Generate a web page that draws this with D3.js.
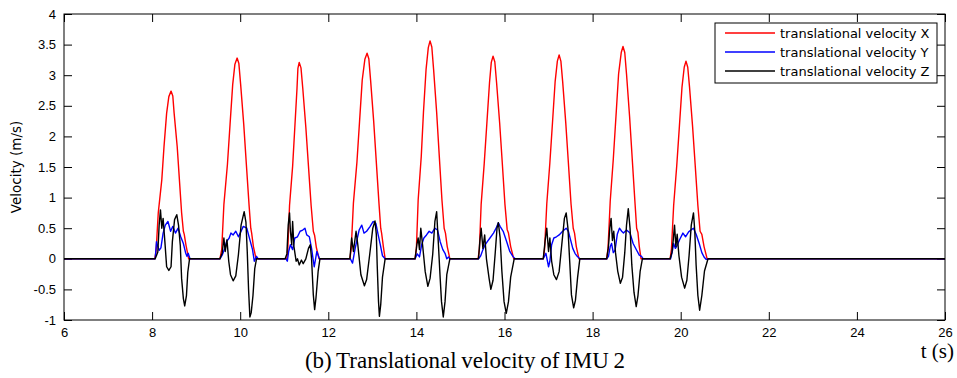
<!DOCTYPE html>
<html>
<head>
<meta charset="utf-8">
<script src="https://cdn.jsdelivr.net/npm/d3@7"></script>
<style>
  body { margin: 0; background: #ffffff; }
  svg { display: block; }
</style>
</head>
<body>
<div id="chart"></div>
<script>
// Translational velocity of IMU 2, three components over time (s).
const xTicks = [6, 8, 10, 12, 14, 16, 18, 20, 22, 24, 26];
const yTicks = [-1, -0.5, 0, 0.5, 1, 1.5, 2, 2.5, 3, 3.5, 4];
const seriesNames = ["translational velocity X", "translational velocity Y", "translational velocity Z"];
const seriesColors = ["#ff0000", "#0000ff", "#000000"];

// [t, v] samples, one line per stride.
const velX = [
  [6, 0],
  [8.06, 0], [8.09, 0.12], [8.14, 0.75], [8.22, 1.29], [8.27, 1.83], [8.33, 2.38], [8.38, 2.65], [8.43, 2.74], [8.47, 2.66], [8.50, 2.38], [8.57, 1.83], [8.62, 1.29], [8.67, 0.75], [8.71, 0.45], [8.73, 0.40], [8.77, 0.22], [8.83, 0],
  [9.54, 0], [9.58, 0.15], [9.63, 0.89], [9.71, 1.54], [9.77, 2.2], [9.83, 2.85], [9.88, 3.18], [9.93, 3.28], [9.97, 3.19], [10.01, 2.85], [10.08, 2.2], [10.14, 1.54], [10.20, 0.89], [10.24, 0.50], [10.26, 0.42], [10.30, 0.2], [10.36, 0],
  [11.06, 0], [11.08, 0.15], [11.12, 0.87], [11.19, 1.51], [11.24, 2.15], [11.29, 2.79], [11.31, 3.11], [11.34, 3.21], [11.38, 3.12], [11.42, 2.79], [11.49, 2.15], [11.55, 1.51], [11.61, 0.87], [11.66, 0.45], [11.69, 0.38], [11.73, 0.18], [11.79, 0],
  [12.49, 0], [12.52, 0.16], [12.57, 0.91], [12.65, 1.58], [12.71, 2.25], [12.77, 2.92], [12.83, 3.26], [12.88, 3.36], [12.92, 3.27], [12.96, 2.92], [13.03, 2.25], [13.09, 1.58], [13.15, 0.91], [13.19, 0.5], [13.21, 0.42], [13.25, 0.2], [13.29, 0],
  [13.97, 0], [14.00, 0.17], [14.04, 0.96], [14.11, 1.67], [14.16, 2.39], [14.22, 3.10], [14.27, 3.45], [14.31, 3.56], [14.35, 3.46], [14.39, 3.10], [14.46, 2.39], [14.52, 1.67], [14.58, 0.96], [14.63, 0.5], [14.66, 0.42], [14.70, 0.2], [14.76, 0],
  [15.40, 0], [15.43, 0.16], [15.47, 0.89], [15.54, 1.56], [15.60, 2.22], [15.66, 2.88], [15.70, 3.21], [15.74, 3.31], [15.78, 3.22], [15.82, 2.88], [15.89, 2.22], [15.95, 1.56], [16.01, 0.89], [16.06, 0.48], [16.09, 0.42], [16.14, 0.2], [16.21, 0],
  [16.88, 0], [16.91, 0.16], [16.96, 0.9], [17.03, 1.57], [17.09, 2.23], [17.15, 2.9], [17.20, 3.23], [17.24, 3.33], [17.28, 3.23], [17.32, 2.9], [17.39, 2.23], [17.45, 1.57], [17.51, 0.9], [17.56, 0.5], [17.59, 0.42], [17.63, 0.2], [17.69, 0],
  [18.32, 0], [18.35, 0.17], [18.40, 0.94], [18.47, 1.63], [18.53, 2.32], [18.59, 3.02], [18.65, 3.37], [18.69, 3.47], [18.73, 3.37], [18.77, 3.02], [18.84, 2.32], [18.90, 1.63], [18.96, 0.94], [19.00, 0.5], [19.03, 0.43], [19.06, 0.2], [19.10, 0],
  [19.76, 0], [19.79, 0.16], [19.84, 0.87], [19.91, 1.52], [19.97, 2.16], [20.03, 2.81], [20.08, 3.13], [20.12, 3.23], [20.16, 3.13], [20.20, 2.81], [20.27, 2.16], [20.33, 1.52], [20.39, 0.87], [20.44, 0.45], [20.48, 0.4], [20.53, 0.2], [20.60, 0],
  [26, 0]
];

const velY = [
  [6, 0],
  [8.07, 0], [8.10, 0.28], [8.13, 0.2], [8.16, 0.14], [8.20, 0.18], [8.25, 0.42], [8.30, 0.55], [8.36, 0.61], [8.42, 0.45], [8.47, 0.53], [8.53, 0.42], [8.59, 0.5], [8.65, 0.36], [8.71, 0.25], [8.76, 0.1], [8.79, 0.04], [8.82, 0.09], [8.86, 0],
  [9.54, 0], [9.59, 0.06], [9.65, 0.17], [9.69, 0.28], [9.75, 0.34], [9.79, 0.42], [9.84, 0.39], [9.90, 0.45], [9.96, 0.36], [10.02, 0.45], [10.07, 0.53], [10.15, 0.5], [10.22, 0.31], [10.28, 0.15], [10.32, -0.04], [10.37, 0.04], [10.41, 0],
  [11.04, 0], [11.07, -0.04], [11.10, 0.12], [11.14, 0.23], [11.19, 0.15], [11.24, 0.34], [11.30, 0.36], [11.36, 0.45], [11.42, 0.47], [11.47, 0.5], [11.51, 0.39], [11.57, 0.36], [11.62, 0.17], [11.68, -0.13], [11.74, 0.12], [11.80, 0],
  [12.50, 0], [12.55, -0.07], [12.61, 0.17], [12.66, 0.34], [12.70, 0.47], [12.76, 0.55], [12.81, 0.42], [12.87, 0.45], [12.95, 0.53], [13.02, 0.61], [13.08, 0.58], [13.13, 0.4], [13.18, 0.23], [13.23, 0.05], [13.29, 0],
  [13.97, 0], [14.02, 0.08], [14.07, 0.03], [14.12, 0.23], [14.17, 0.34], [14.23, 0.39], [14.29, 0.45], [14.35, 0.42], [14.42, 0.5], [14.48, 0.47], [14.54, 0.28], [14.60, 0.15], [14.65, 0.09], [14.69, 0], [14.73, 0.03], [14.76, 0],
  [15.41, 0], [15.46, 0.05], [15.51, 0.15], [15.56, 0.23], [15.61, 0.28], [15.67, 0.34], [15.75, 0.42], [15.81, 0.5], [15.86, 0.59], [15.90, 0.53], [15.97, 0.45], [16.05, 0.28], [16.12, 0.12], [16.19, 0.04], [16.24, 0],
  [16.88, 0], [16.94, 0.09], [17.00, -0.13], [17.03, -0.04], [17.07, 0.23], [17.12, 0.34], [17.18, 0.36], [17.24, 0.39], [17.32, 0.45], [17.40, 0.5], [17.45, 0.45], [17.50, 0.31], [17.55, 0.17], [17.60, 0.09], [17.65, 0.04], [17.71, 0],
  [18.32, 0], [18.36, 0.04], [18.40, 0.2], [18.43, 0.25], [18.47, 0.1], [18.51, 0.14], [18.56, 0.4], [18.61, 0.5], [18.66, 0.45], [18.70, 0.42], [18.77, 0.47], [18.85, 0.42], [18.92, 0.25], [19.00, 0.14], [19.06, 0.06], [19.11, 0.04], [19.15, 0],
  [19.77, 0], [19.81, 0.12], [19.84, 0.25], [19.88, 0.17], [19.92, 0.22], [19.98, 0.32], [20.05, 0.42], [20.11, 0.36], [20.18, 0.44], [20.25, 0.48], [20.29, 0.5], [20.35, 0.4], [20.42, 0.25], [20.48, 0.1], [20.53, 0.03], [20.58, -0.01], [20.63, 0],
  [26, 0]
];

const velZ = [
  [6, 0],
  [8.07, 0], [8.13, 0.11], [8.16, 0.55], [8.19, 0.80], [8.22, 0.50], [8.25, 0.66], [8.29, 0.28], [8.33, -0.13], [8.38, -0.19], [8.43, -0.13], [8.46, 0.28], [8.51, 0.64], [8.56, 0.72], [8.60, 0.55], [8.64, 0.22], [8.67, -0.32], [8.71, -0.65], [8.74, -0.77], [8.78, -0.60], [8.81, -0.22], [8.85, 0],
  [9.54, 0], [9.59, 0.09], [9.63, 0.34], [9.66, 0.12], [9.70, 0.31], [9.74, -0.04], [9.78, -0.26], [9.84, -0.36], [9.90, -0.28], [9.96, 0.07], [10.02, 0.55], [10.09, 0.77], [10.13, 0.6], [10.16, 0.12], [10.19, -0.5], [10.22, -0.95], [10.25, -0.88], [10.29, -0.6], [10.33, -0.16], [10.37, 0],
  [11.02, 0], [11.06, 0.08], [11.09, 0.55], [11.12, 0.75], [11.14, 0.45], [11.17, 0.23], [11.19, 0.61], [11.22, 0.2], [11.27, -0.04], [11.30, 0.0], [11.34, -0.1], [11.39, -0.02], [11.43, -0.08], [11.49, 0.0], [11.55, 0.17], [11.59, 0.23], [11.62, 0.0], [11.66, -0.59], [11.69, -0.83], [11.72, -0.64], [11.77, -0.2], [11.81, 0],
  [12.49, 0], [12.53, 0.34], [12.57, 0.12], [12.63, 0.45], [12.67, 0.23], [12.74, -0.26], [12.82, -0.44], [12.87, -0.34], [12.94, 0.07], [13.01, 0.5], [13.06, 0.62], [13.09, 0.4], [13.11, -0.1], [13.14, -0.7], [13.16, -0.94], [13.19, -0.75], [13.23, -0.3], [13.29, 0],
  [13.97, 0], [14.01, 0.23], [14.04, 0.34], [14.07, 0.15], [14.10, 0.5], [14.14, 0.23], [14.20, -0.21], [14.26, -0.45], [14.31, -0.32], [14.37, 0.07], [14.42, 0.61], [14.46, 0.77], [14.50, 0.23], [14.54, -0.32], [14.57, -0.7], [14.61, -0.95], [14.65, -0.7], [14.69, -0.26], [14.76, 0],
  [15.41, 0], [15.44, 0.28], [15.47, 0.5], [15.51, 0.17], [15.55, 0.39], [15.59, 0], [15.65, -0.32], [15.69, -0.5], [15.74, -0.35], [15.79, 0.1], [15.83, 0.5], [15.86, 0.59], [15.90, 0.35], [15.94, -0.2], [15.99, -0.7], [16.04, -0.89], [16.09, -0.7], [16.14, -0.3], [16.22, 0],
  [16.88, 0], [16.92, 0.28], [16.96, 0.5], [17.00, 0.12], [17.03, 0.34], [17.07, -0.04], [17.12, -0.26], [17.18, -0.34], [17.24, -0.21], [17.30, 0.23], [17.36, 0.66], [17.40, 0.75], [17.44, 0.5], [17.48, -0.04], [17.52, -0.59], [17.57, -0.8], [17.61, -0.68], [17.66, -0.3], [17.71, 0],
  [18.32, 0], [18.36, 0.2], [18.39, 0.5], [18.42, 0.66], [18.45, 0.3], [18.48, 0.45], [18.52, 0.1], [18.57, -0.2], [18.63, -0.4], [18.68, -0.3], [18.73, 0.1], [18.77, 0.55], [18.81, 0.82], [18.85, 0.5], [18.89, -0.1], [18.94, -0.55], [18.99, -0.78], [19.03, -0.6], [19.08, -0.2], [19.13, 0],
  [19.76, 0], [19.80, 0.1], [19.83, 0.3], [19.86, 0.55], [19.89, 0.2], [19.92, 0.4], [19.96, 0.05], [20.02, -0.3], [20.09, -0.48], [20.14, -0.35], [20.19, 0.05], [20.24, 0.55], [20.29, 0.75], [20.32, 0.45], [20.35, -0.1], [20.39, -0.6], [20.43, -0.84], [20.48, -0.6], [20.54, -0.2], [20.62, 0],
  [26, 0]
];

const WIDTH = 957;
const HEIGHT = 378;
const PLOT = { left: 64, right: 945, top: 14, bottom: 320 };
const TICK_LEN = 8;
const TICK_FONT = "'Liberation Sans', Arial, sans-serif";
const LABEL_FONT = "'DejaVu Sans', 'Liberation Sans', sans-serif";
const SERIF_FONT = "'Liberation Serif', 'Times New Roman', serif";

const svg = d3.select("#chart")
  .append("svg")
  .attr("width", WIDTH)
  .attr("height", HEIGHT);

const x = d3.scaleLinear().domain([6, 26]).range([PLOT.left, PLOT.right]);
const y = d3.scaleLinear().domain([-1, 4]).range([PLOT.bottom, PLOT.top]);

svg.append("defs").append("clipPath")
  .attr("id", "plot-clip")
  .append("rect")
  .attr("x", PLOT.left)
  .attr("y", PLOT.top)
  .attr("width", PLOT.right - PLOT.left)
  .attr("height", PLOT.bottom - PLOT.top);

// MATLAB-style boxed axes: ticks point inward on all four sides.
const styleAxis = g => {
  g.select(".domain").remove();
  g.selectAll(".tick line").attr("stroke", "#000").attr("stroke-width", 1);
  g.selectAll(".tick text")
    .attr("fill", "#000")
    .style("font-family", TICK_FONT)
    .style("font-size", "13px");
};

svg.append("g")
  .attr("transform", `translate(0, ${PLOT.bottom})`)
  .call(d3.axisBottom(x).tickValues(xTicks).tickSize(-TICK_LEN).tickPadding(8).tickFormat(d3.format("d")))
  .call(styleAxis);

svg.append("g")
  .attr("transform", `translate(0, ${PLOT.top})`)
  .call(d3.axisTop(x).tickValues(xTicks).tickSize(-TICK_LEN).tickFormat(""))
  .call(styleAxis);

svg.append("g")
  .attr("transform", `translate(${PLOT.left}, 0)`)
  .call(d3.axisLeft(y).tickValues(yTicks).tickSize(-TICK_LEN).tickPadding(8).tickFormat(d => String(d)))
  .call(styleAxis);

svg.append("g")
  .attr("transform", `translate(${PLOT.right}, 0)`)
  .call(d3.axisRight(y).tickValues(yTicks).tickSize(-TICK_LEN).tickFormat(""))
  .call(styleAxis);

// Series lines, X first so Z ends up on top like the original.
const line = d3.line()
  .x(d => x(d[0]))
  .y(d => y(d[1]));

svg.append("g")
  .attr("clip-path", "url(#plot-clip)")
  .selectAll("path")
  .data([velX, velY, velZ])
  .join("path")
  .attr("d", line)
  .attr("fill", "none")
  .attr("stroke", (d, i) => seriesColors[i])
  .attr("stroke-width", 1.4)
  .attr("stroke-linejoin", "round");

svg.append("rect")
  .attr("x", PLOT.left)
  .attr("y", PLOT.top)
  .attr("width", PLOT.right - PLOT.left)
  .attr("height", PLOT.bottom - PLOT.top)
  .attr("fill", "none")
  .attr("stroke", "#000")
  .attr("stroke-width", 1);

// Legend box in the upper right corner.
const legend = svg.append("g").attr("transform", "translate(715, 23)");

legend.append("rect")
  .attr("width", 222)
  .attr("height", 60)
  .attr("fill", "#fff")
  .attr("stroke", "#000")
  .attr("stroke-width", 1);

const rows = legend.selectAll("g.row")
  .data(seriesNames)
  .join("g")
  .attr("class", "row")
  .attr("transform", (d, i) => `translate(0, ${10 + i * 19})`);

rows.append("line")
  .attr("x1", 10)
  .attr("x2", 60)
  .attr("stroke", (d, i) => seriesColors[i])
  .attr("stroke-width", 1.5);

rows.append("text")
  .attr("x", 65)
  .attr("dy", "0.35em")
  .style("font-family", LABEL_FONT)
  .style("font-size", "13px")
  .text(d => d);

svg.append("text")
  .attr("transform", `translate(21, ${(PLOT.top + PLOT.bottom) / 2}) rotate(-90)`)
  .attr("text-anchor", "middle")
  .style("font-family", LABEL_FONT)
  .style("font-size", "13.5px")
  .text("Velocity (m/s)");

svg.append("text")
  .attr("x", 954)
  .attr("y", 358)
  .attr("text-anchor", "end")
  .style("font-family", SERIF_FONT)
  .style("font-size", "21px")
  .text("t (s)");

svg.append("text")
  .attr("x", 465)
  .attr("y", 368)
  .attr("text-anchor", "middle")
  .style("font-family", SERIF_FONT)
  .style("font-size", "23px")
  .style("word-spacing", "-1px")
  .text("(b) Translational velocity of IMU 2");
</script>
</body>
</html>
